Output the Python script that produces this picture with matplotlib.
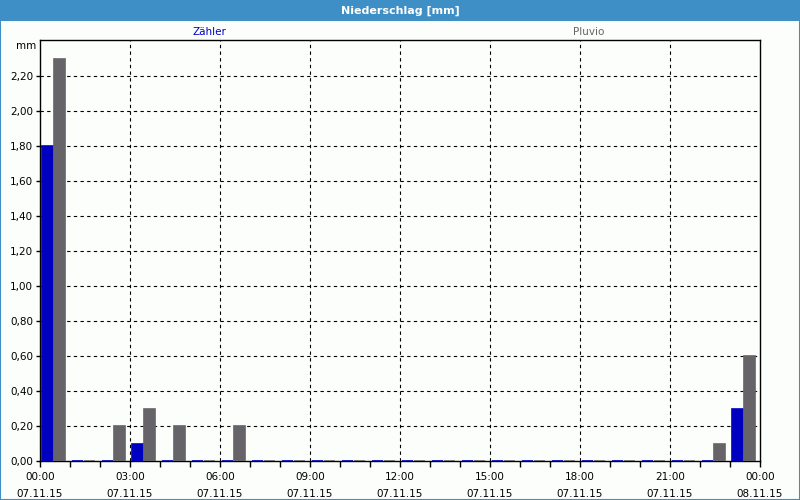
import matplotlib.pyplot as plt
import numpy as np
from matplotlib.patches import Rectangle
from matplotlib.ticker import FuncFormatter, MultipleLocator, FixedLocator

# Stundenwerte 07.11.15 00:00 - 08.11.15 00:00
hours = np.arange(24)
zaehler = [1.8, 0, 0, 0.1, 0, 0, 0, 0, 0, 0, 0, 0,
           0, 0, 0, 0, 0, 0, 0, 0, 0, 0, 0, 0.3]
pluvio = [2.3, 0, 0.2, 0.3, 0.2, 0, 0.2, 0, 0, 0, 0, 0,
          0, 0, 0, 0, 0, 0, 0, 0, 0, 0, 0.1, 0.6]
tick_hours = [0, 3, 6, 9, 12, 15, 18, 21, 24]
tick_labels = ["00:00\n07.11.15", "03:00\n07.11.15", "06:00\n07.11.15",
               "09:00\n07.11.15", "12:00\n07.11.15", "15:00\n07.11.15",
               "18:00\n07.11.15", "21:00\n07.11.15", "00:00\n08.11.15"]
y_ticks = [0.0, 0.2, 0.4, 0.6, 0.8, 1.0, 1.2, 1.4, 1.6, 1.8, 2.0, 2.2]

blue = '#0000c0'
grey = '#666468'
bg = '#fcfefc'

plt.rcParams['font.family'] = 'DejaVu Sans'
plt.rcParams['font.size'] = 7.5

fig = plt.figure(figsize=(8, 5), dpi=100, facecolor=bg)
ax = fig.add_axes([0.05, 0.078, 0.90, 0.842])
ax.set_facecolor(bg)

# Balken
ax.bar(hours + 0.24, zaehler, width=0.36, color=blue, edgecolor=blue, linewidth=1.2, zorder=3)
ax.bar(hours + 0.66, pluvio, width=0.36, color=grey, edgecolor=grey, linewidth=1.2, zorder=3)

ax.set_xlim(0, 24)
ax.set_ylim(0, 2.406)

ax.set_xticks(tick_hours)
ax.set_xticklabels(tick_labels, linespacing=1.9)
ax.xaxis.set_minor_locator(MultipleLocator(1))
ax.yaxis.set_major_locator(FixedLocator(y_ticks))
ax.yaxis.set_major_formatter(FuncFormatter(lambda v, p: f"{v:.2f}".replace('.', ',')))

ax.tick_params(axis='x', which='major', length=4, width=1, pad=4, direction='out')
ax.tick_params(axis='x', which='minor', length=4, width=1, direction='out')
ax.tick_params(axis='y', length=3, width=1, pad=2)

for v in tick_hours[1:-1]:
    ax.axvline(v, color='black', linestyle=(0, (3, 3)), linewidth=0.8, zorder=1)
for v in y_ticks[1:]:
    ax.axhline(v, color='black', linestyle=(0, (3, 3)), linewidth=0.8, zorder=1)

for s in ax.spines.values():
    s.set_linewidth(1)

# Kopfzeile
fig.patches.append(Rectangle((0, 1 - 21 / 500), 1, 21 / 500, transform=fig.transFigure,
                             facecolor='#3d8fc6', edgecolor='none', zorder=0))
fig.patches.append(Rectangle((0.0006, 0.001), 0.9988, 0.998, transform=fig.transFigure,
                             facecolor='none', edgecolor='#3d8fc6', linewidth=1.5, zorder=0))
fig.text(0.5, 1 - 10.5 / 500, "Niederschlag [mm]", color='white', fontweight='bold',
         fontsize=8, ha='center', va='center')

# Legende
fig.text(209 / 800, 1 - 32 / 500, "Zähler", color=blue, ha='center', va='center')
fig.text(589 / 800, 1 - 32 / 500, "Pluvio", color=grey, ha='center', va='center')
fig.text(36 / 800, 1 - 46 / 500, "mm", color='black', ha='right', va='center')

plt.savefig("out.png", dpi=100, facecolor=bg)
